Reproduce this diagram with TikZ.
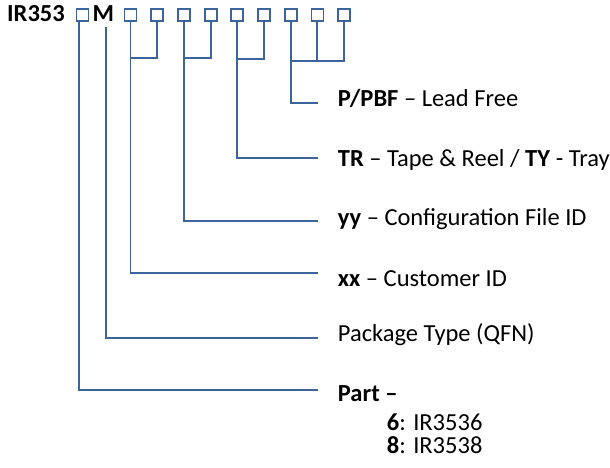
\documentclass[tikz,border=0pt]{standalone}
\usepackage{fontspec}
\setmainfont{Carlito}
\usepackage{xcolor}
\usepackage{tikz}
\usetikzlibrary{positioning}
\definecolor{lineblue}{RGB}{60,100,155}
\tikzstyle{conn} = [draw=lineblue, line width=1.9pt]
\tikzstyle{cell} = [draw=lineblue, line width=1.8pt, minimum size=12pt, inner sep=0pt]
\tikzstyle{txt} = [anchor=base west, inner sep=0pt, font=\fontsize{24.5}{29}\selectfont]

\begin{document}
\begin{tikzpicture}[x=1pt,y=-1pt] %[scale=0.8]
  \useasboundingbox (0,0) rectangle (610,468);
  \node [txt] (ir) at (7,21.7) {\textbf{IR353}};
  \node [cell] (b0) at (82.5,15) {};
  \node [txt] (m) at (92.5,21.7) {\textbf{M}};
  \foreach \i in {1,...,9}
    \node [cell] (b\i) at ({130.5+26.7*(\i-1)},15) {};
  \node [txt] (pb) at (337.7,106.7) {\textbf{P/PBF} -- Lead Free};
  \node [txt] (tr) at (337.7,166.5) {\textbf{TR} -- Tape \& Reel / \textbf{TY} - Tray};
  \node [txt] (cf) at (337.7,225) {\textbf{yy} -- Configuration File ID};
  \node [txt] (cu) at (337.7,286) {\textbf{xx} -- Customer ID};
  \node [txt] (pk) at (337.7,341.7) {Package Type (QFN)};
  \node [txt] (pt) at (337.7,401.7) {\textbf{Part --}};
  \node [txt] (p6) at (386.7,430.7) {\textbf{6}: IR3536};
  \node [txt] (p8) at (386.7,453.3) {\textbf{8}: IR3538};
  \coordinate (epb) at (318,102.7);
  \coordinate (etr) at (318,158.3);
  \coordinate (ecf) at (318,221);
  \coordinate (ecu) at (318,273);
  \coordinate (epk) at (318,337.7);
  \coordinate (ept) at (318,390);
  \draw [conn] ([xshift=-3.5]b0.south) |- (ept);
  \draw [conn, shorten <=5pt] ([xshift=2.5]m.south) |- (epk);
  \draw [conn] (b2.south) -- ++(0,36) -| (b1.south);
  \draw [conn] (b1.south) |- (ecu);
  \draw [conn] (b4.south) -- ++(0,36.5) -| (b3.south);
  \draw [conn] (b3.south) |- (ecf);
  \draw [conn] (b6.south) -- ++(0,37.5) -| (b5.south);
  \draw [conn] (b5.south) |- (etr);
  \draw [conn] (b9.south) -- ++(0,39) -| (b7.south);
  \draw [conn] (b8.south) -- ++(0,39);
  \draw [conn] (b7.south) |- (epb);
\end{tikzpicture}
\end{document}
